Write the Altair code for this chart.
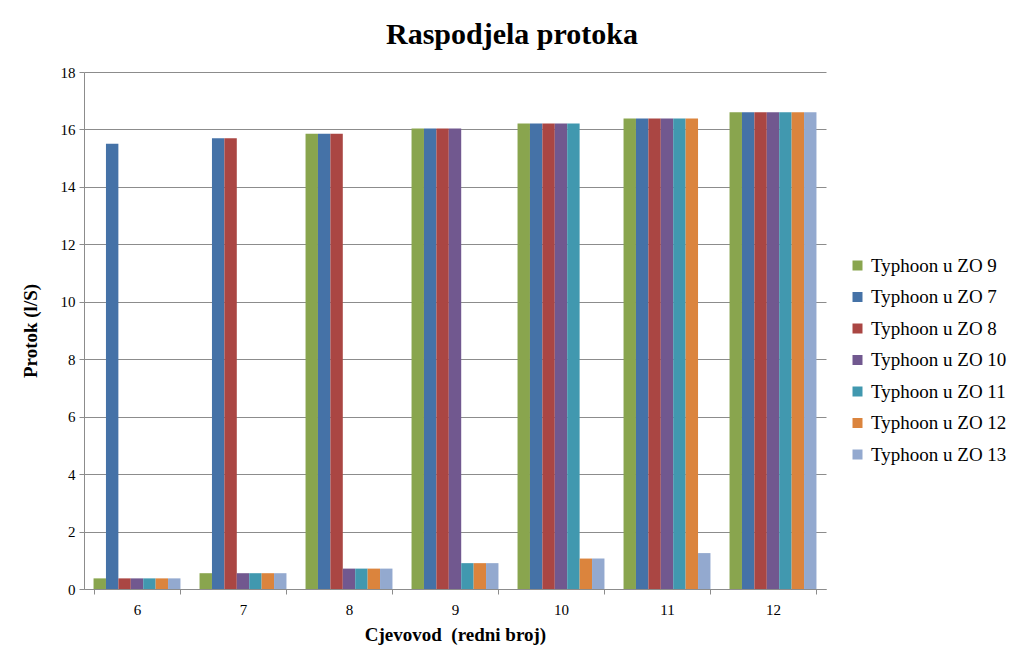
import altair as alt
import pandas as pd

groups = ["6", "7", "8", "9", "10", "11", "12"]
series = ["Typhoon u ZO 9", "Typhoon u ZO 7", "Typhoon u ZO 8", "Typhoon u ZO 10",
          "Typhoon u ZO 11", "Typhoon u ZO 12", "Typhoon u ZO 13"]
colors = ["#89A54E", "#4572A7", "#AA4643", "#71588F", "#4198AF", "#DB843D", "#93A9CF"]

zo9 = [0.37, 0.55, 15.85, 16.03, 16.21, 16.38, 16.60]
zo7 = [15.50, 15.69, 15.85, 16.03, 16.21, 16.38, 16.60]
zo8 = [0.37, 15.69, 15.85, 16.03, 16.21, 16.38, 16.60]
zo10 = [0.37, 0.55, 0.71, 16.03, 16.21, 16.38, 16.60]
zo11 = [0.37, 0.55, 0.71, 0.90, 16.21, 16.38, 16.60]
zo12 = [0.37, 0.55, 0.71, 0.90, 1.06, 16.38, 16.60]
zo13 = [0.37, 0.55, 0.71, 0.90, 1.06, 1.25, 16.60]

values = [zo9, zo7, zo8, zo10, zo11, zo12, zo13]
rows = []
for s, vals in zip(series, values):
    for g, v in zip(groups, vals):
        rows.append({"Cjevovod": g, "Serija": s, "Protok": v})
df = pd.DataFrame(rows)

FONT = "'Liberation Serif', 'Times New Roman', serif"

chart = alt.Chart(df).mark_bar().encode(
    x=alt.X("Cjevovod:N", sort=groups,
            scale=alt.Scale(paddingInner=0.18, paddingOuter=0.09),
            axis=alt.Axis(title="Cjevovod\u00a0 (redni broj)", labelAngle=0, tickBand="extent",
                          labelFontSize=15, labelPadding=8, titleFontSize=19,
                          titlePadding=8, tickSize=5, labelFont=FONT, titleFont=FONT)),
    xOffset=alt.XOffset("Serija:N", sort=series, scale=alt.Scale(paddingInner=0, paddingOuter=0)),
    y=alt.Y("Protok:Q", scale=alt.Scale(domain=[0, 18]),
            axis=alt.Axis(title="Protok (l/S)", values=list(range(0, 19, 2)), grid=True,
                          labelFontSize=15, labelPadding=4, titleFontSize=19,
                          titlePadding=20, tickSize=5, labelFont=FONT, titleFont=FONT)),
    color=alt.Color("Serija:N", sort=series,
                    scale=alt.Scale(domain=series, range=colors),
                    legend=alt.Legend(title=None, orient="none", legendX=764, legendY=184,
                                      symbolType="square", symbolSize=100,
                                      symbolStrokeWidth=0, labelFontSize=19, labelFont=FONT,
                                      rowPadding=11.5, labelOffset=4)),
).properties(
    width=742, height=517,
    title=alt.TitleParams("Raspodjela protoka", fontSize=30, font=FONT, fontWeight="bold",
                          anchor="middle", dx=57, offset=15, color="black"),
    autosize=alt.AutoSizeParams(type="none"),
    padding={"left": 76, "top": 64, "right": 190, "bottom": 74},
).configure_view(
    stroke=None
).configure_axis(
    labelColor="black", titleColor="black",
    titleFontWeight="bold", domainColor="#8c8c8c", tickColor="#8c8c8c",
    gridColor="#8c8c8c", gridWidth=1
).configure_legend(
    labelColor="black"
)

chart.save("out.html", embed_options={"renderer": "svg", "actions": False})
